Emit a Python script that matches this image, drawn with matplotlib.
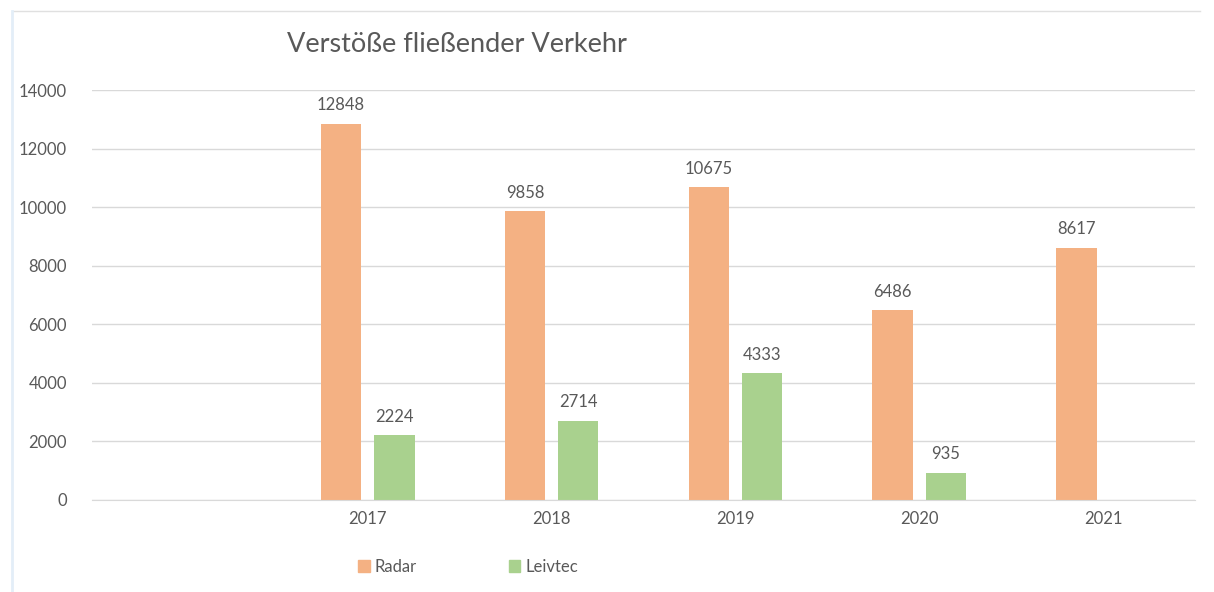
import matplotlib.pyplot as plt
from matplotlib.patches import Rectangle
from matplotlib.lines import Line2D
import numpy as np

# data (first category slot is empty in the original)
categories = ["", "2017", "2018", "2019", "2020", "2021"]
radar = [np.nan, 12848, 9858, 10675, 6486, 8617]
leivtec = [np.nan, 2224, 2714, 4333, 935, np.nan]
series_names = ["Radar", "Leivtec"]

orange = "#F4B183"
green = "#A9D18E"
textcol = "#595959"
gridcol = "#D9D9D9"

plt.rcParams['font.family'] = ['Lato', 'DejaVu Sans']

fig = plt.figure(figsize=(12.14, 5.92), dpi=100)
ax = fig.add_axes([92 / 1214, 1 - 500 / 592, 1103 / 1214, 410 / 592])

x = np.arange(len(categories))
w = 0.22
off = 0.145
ax.bar(x - off, radar, w, color=orange)
ax.bar(x + off, leivtec, w, color=green)

for xi, v in zip(x, radar):
    if not np.isnan(v):
        ax.text(xi - off, v + 350, str(int(v)), ha="center", va="bottom",
                fontsize=12, color=textcol)
for xi, v in zip(x, leivtec):
    if not np.isnan(v):
        ax.text(xi + off, v + 350, str(int(v)), ha="center", va="bottom",
                fontsize=12, color=textcol)

ax.set_xlim(-0.5, len(categories) - 0.5)
ax.set_ylim(0, 14000)
ax.set_yticks(range(0, 14001, 2000))
ax.set_xticks(x)
ax.set_xticklabels(categories)
ax.tick_params(axis="both", length=0, labelsize=12, colors=textcol)
ax.tick_params(axis="y", pad=18)
ax.tick_params(axis="x", pad=8)
ax.yaxis.grid(True, color=gridcol, linewidth=1)
ax.set_axisbelow(True)
for s in ["top", "right", "left"]:
    ax.spines[s].set_visible(False)
ax.spines["bottom"].set_color(gridcol)

fig.text(287 / 1214, 1 - 45 / 592, "Verstöße fließender Verkehr", fontsize=19.5,
         color=textcol, va="center", ha="left")

# legend
handles = [Rectangle((0, 0), 1, 1, color=orange), Rectangle((0, 0), 1, 1, color=green)]
fig.legend(handles, series_names, loc="center", bbox_to_anchor=(468 / 1214, 1 - 567 / 592),
           ncol=2, frameon=False, fontsize=12, labelcolor=textcol, handlelength=0.7,
           handleheight=0.7, handletextpad=0.3, columnspacing=5.5)

# thin frame lines of the screenshot
fig.add_artist(Line2D([12 / 1214, 1200 / 1214], [1 - 11 / 592, 1 - 11 / 592],
                      color="#E0E0E0", linewidth=1, transform=fig.transFigure))
fig.add_artist(Line2D([12 / 1214, 12 / 1214], [1 - 11 / 592, 0],
                      color="#E3EEF8", linewidth=2, transform=fig.transFigure))

fig.savefig("out.png", dpi=100, facecolor="white")
